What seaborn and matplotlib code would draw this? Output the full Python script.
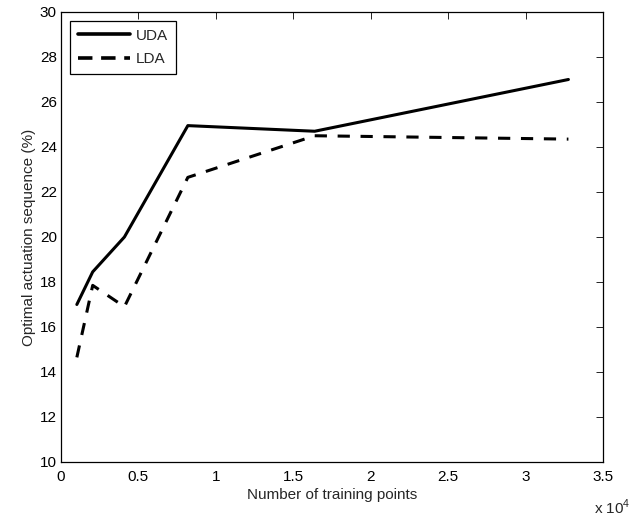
import matplotlib
matplotlib.use("Agg")
import matplotlib.pyplot as plt
import matplotlib.ticker as mticker
from matplotlib.lines import Line2D
import pandas as pd
import seaborn as sns

# Training set sizes and the share of optimal actuation sequences per method
train_points = [1024, 2048, 4096, 8192, 16384, 32768]
uda_values = [17.0, 18.45, 20.0, 24.95, 24.7, 27.0]
lda_values = [14.65, 17.85, 16.9, 22.65, 24.5, 24.35]
methods = ["UDA", "LDA"]

df = pd.DataFrame({
    "points": train_points * 2,
    "value": uda_values + lda_values,
    "method": [methods[0]] * len(train_points) + [methods[1]] * len(train_points),
})

sns.set_style("white")
plt.rcParams["font.family"] = ["Liberation Sans", "DejaVu Sans"]
plt.rcParams["mathtext.fontset"] = "custom"
plt.rcParams["mathtext.rm"] = "Liberation Sans"

FS = 11

fig = plt.figure(figsize=(6.44, 5.17), dpi=100)
ax = fig.add_axes([0.0947, 0.1064, 0.8416, 0.8704])

sns.lineplot(data=df, x="points", y="value", style="method",
             style_order=methods, dashes={"UDA": "", "LDA": (4, 3.5)},
             color="black", linewidth=2.2, ax=ax, legend=False)

ax.set_xlim(0, 35000)
ax.set_ylim(10, 30)
ax.set_xticks([0, 5000, 10000, 15000, 20000, 25000, 30000, 35000])
ax.xaxis.set_major_formatter(mticker.FuncFormatter(lambda v, p: f"{v / 1e4:g}"))
ax.set_yticks(range(10, 31, 2))

ax.tick_params(direction="in", length=5, width=0.6, top=True, right=True,
               labelsize=FS, colors="black", pad=3)
ax.tick_params(axis="x", pad=6)
for side in ax.spines.values():
    side.set_color("black")
    side.set_linewidth(0.9)

ax.set_xlabel("Number of training points", fontsize=FS, labelpad=3)
ax.set_ylabel("Optimal actuation sequence (%)", fontsize=FS, labelpad=3)
# Exponent of the x-axis scale, placed below the right end of the axis
fig.text(612 / 644, 1 - 514 / 517, "x 10$^{4}$", fontsize=FS,
         ha="center", va="baseline")

handles = [Line2D([], [], color="black", lw=2.6, ls="-"),
           Line2D([], [], color="black", lw=2.6, ls=(0, (4, 2.4)))]
leg = ax.legend(handles, methods, loc="upper left", fontsize=FS,
                fancybox=False, framealpha=1, edgecolor="black",
                handlelength=3.4, borderaxespad=0.6, handletextpad=0.4,
                borderpad=0.5, labelspacing=0.6)
leg.get_frame().set_linewidth(0.9)

fig.savefig("out.png", dpi=100)
